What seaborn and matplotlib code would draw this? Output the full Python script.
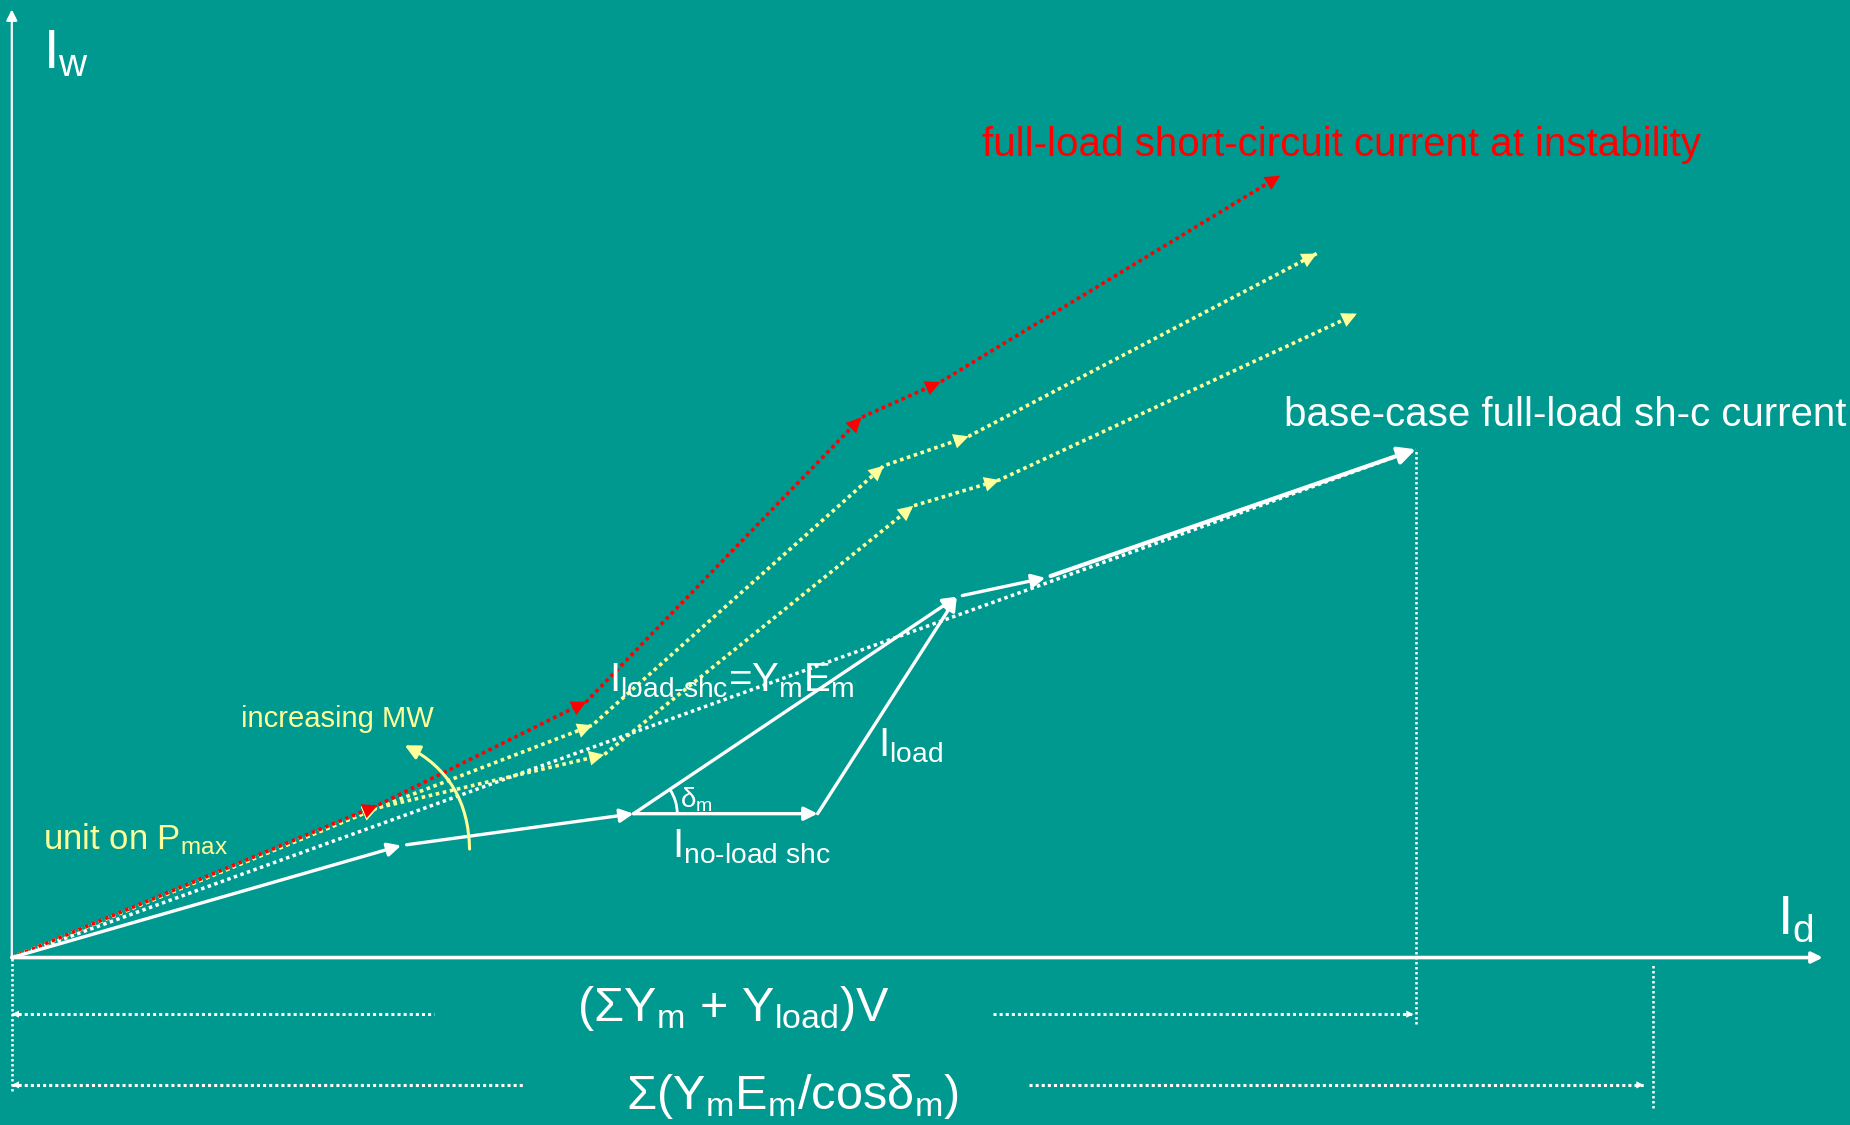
import matplotlib
matplotlib.use('Agg')
import matplotlib.pyplot as plt
import seaborn as sns
import numpy as np
from matplotlib.patches import Arc

# colours
BG = '#00998F'
RED = '#FF0000'
YEL = '#FFFF99'
WHT = '#FFFFFF'

# phasor chains (I_d, I_w), origin at axes crossing
red_x = [0, 310, 487, 720, 787, 1075]
red_y = [0, 129, 217, 458, 488, 663]
yel1_x = [0, 310, 492, 739, 811, 1106]
yel1_y = [0, 127, 197, 417, 442, 597]
yel2_x = [0, 310, 502, 764, 837, 1140]
yel2_y = [0, 127, 172, 383, 405, 546]

# base case (solid white)
base_x = [0, 330, 527, 801, 876, 1190]
base_y = [0, 95, 122, 306, 322, 431]
noload_tip = (683, 122)

# dimension lines
dim1_y = -48
dim1_left = [0, 358]
dim1_right = [832, 1188]
dim2_y = -108
dim2_left = [0, 435]
dim2_right = [862, 1383]
cos_x = 1391

sns.set_theme(style='white')
plt.rcParams['font.family'] = ['Liberation Sans', 'DejaVu Sans']
plt.rcParams['mathtext.fontset'] = 'custom'
plt.rcParams['mathtext.rm'] = 'Liberation Sans'
plt.rcParams['mathtext.it'] = 'Liberation Sans'
plt.rcParams['mathtext.default'] = 'regular'

fig = plt.figure(figsize=(18.5, 11.25), dpi=100, facecolor=BG)
ax = fig.add_axes([0, 0, 1, 1])
ax.set_facecolor(BG)
ax.set_xlim(-10, 1558)
ax.set_ylim(-142, 812)
ax.axis('off')

DOT = (0, (1, 1))


def head(p0, p1, color, ms=20):
    p0 = np.asarray(p0, float)
    p1 = np.asarray(p1, float)
    d = p1 - p0
    back = p1 - d / np.hypot(*d)
    ax.annotate('', xy=p1, xytext=back,
                arrowprops=dict(arrowstyle='-|>', color=color, lw=0,
                                mutation_scale=ms, shrinkA=0, shrinkB=0))


def solid(p0, p1, color=WHT, lw=2.4, ms=20, gap=4):
    ax.annotate('', xy=p1, xytext=p0,
                arrowprops=dict(arrowstyle='-|>', color=color, lw=lw,
                                mutation_scale=ms, shrinkA=gap, shrinkB=0))


# axes
solid((0, 0), (1535, 0), lw=2.6, ms=16, gap=0)
solid((0, 0), (0, 804), lw=1.6, ms=16, gap=0)

# straight dotted white resultant
sns.lineplot(x=[base_x[0], base_x[-1]], y=[base_y[0], base_y[-1]], ax=ax,
             color=WHT, lw=2.5, linestyle=DOT, sort=False)

# dotted chains
for xs, ys, col in [(yel2_x, yel2_y, YEL), (yel1_x, yel1_y, YEL), (red_x, red_y, RED)]:
    sns.lineplot(x=xs, y=ys, ax=ax, color=col, lw=2.6, linestyle=DOT, sort=False)
    for i in range(1, len(xs)):
        head((xs[i - 1], ys[i - 1]), (xs[i], ys[i]), col, ms=27)

# base chain: solid white arrows
P = list(zip(base_x, base_y))
solid(P[0], P[1], gap=0)
solid(P[1], P[2])
solid(P[2], noload_tip, gap=0)
solid(noload_tip, P[3], gap=0)
solid(P[2], P[3], gap=0)
solid(P[3], P[4])
solid(P[4], P[5], lw=3, ms=26)

# angle delta_m
ang = np.degrees(np.arctan2(base_y[3] - base_y[2], base_x[3] - base_x[2]))
ax.add_patch(Arc((base_x[2], base_y[2]), 74, 74, theta1=0, theta2=ang, color=WHT, lw=2))

# increasing MW arrow
ax.annotate('', xy=(333, 180), xytext=(388, 92),
            arrowprops=dict(arrowstyle='-|>', color=YEL, lw=2.2, mutation_scale=22,
                            shrinkA=0, shrinkB=0, connectionstyle='arc3,rad=0.3'))

# projection and dimension lines
ax.vlines(base_x[-1], -56, base_y[-1], color=WHT, lw=1.8, linestyle=DOT)
ax.vlines(cos_x, -128, -6, color=WHT, lw=1.8, linestyle=DOT)
ax.vlines(0, -113, 0, color=WHT, lw=1.8, linestyle=DOT)
for y, left, right in [(dim1_y, dim1_left, dim1_right), (dim2_y, dim2_left, dim2_right)]:
    ax.hlines(y, left[0], left[1], color=WHT, lw=2.2, linestyle=DOT)
    ax.hlines(y, right[0], right[1], color=WHT, lw=2.2, linestyle=DOT)
    head((left[1], y), (left[0], y), WHT, ms=13)
    head((right[0], y), (right[1], y), WHT, ms=13)

# labels
ax.text(46, 766, '$I_{w}$', color=WHT, fontsize=40, ha='center', va='center')
ax.text(1512, 32, '$I_{d}$', color=WHT, fontsize=40, ha='center', va='center')
ax.text(1127, 689, 'full-load short-circuit current at instability', color=RED,
        fontsize=29, ha='center', va='center')
ax.text(1317, 460, 'base-case full-load sh-c current', color=WHT,
        fontsize=29, ha='center', va='center')
ax.text(610, 235, r'$I_{\text{load-shc}}$=$Y_{m}E_{m}$', color=WHT,
        fontsize=29, ha='center', va='center')
ax.text(762, 180, '$I_{load}$', color=WHT, fontsize=29, ha='center', va='center')
ax.text(580, 134, '$δ_{m}$', color=WHT, fontsize=20, ha='center', va='center')
ax.text(627, 94, r'$I_{\text{no-load shc}}$', color=WHT, fontsize=29,
        ha='center', va='center')
ax.text(276, 202, 'increasing MW', color=YEL, fontsize=21, ha='center', va='center')
ax.text(105, 100, 'unit on $P_{max}$', color=YEL, fontsize=25, ha='center', va='center')
ax.text(612, -43, '$(ΣY_{m}$ + $Y_{load})V$', color=WHT, fontsize=35,
        ha='center', va='center')
ax.text(662, -118, r'$Σ(Y_{m}E_{m}/\text{cos}δ_{m})$', color=WHT, fontsize=35,
        ha='center', va='center')

fig.savefig('out.png', dpi=100, facecolor=BG)
